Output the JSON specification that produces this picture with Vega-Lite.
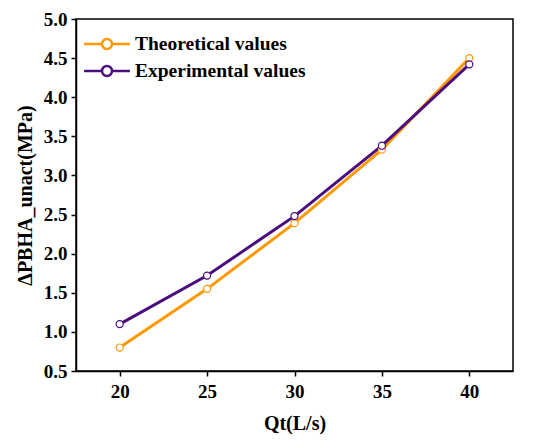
{
  "$schema": "https://vega.github.io/schema/vega-lite/v6.json",
  "description": "Pressure drop of unactuated BHA versus flow rate, theoretical and experimental.",
  "width": 437,
  "height": 352,
  "autosize": {"type": "none"},
  "padding": {"left": 76, "top": 19, "right": 37, "bottom": 77},
  "background": "white",
  "config": {
    "font": "Liberation Serif",
    "view": {"stroke": "#000000", "strokeWidth": 1.5},
    "axis": {
      "grid": false,
      "domainColor": "#000000",
      "domainWidth": 1.5,
      "tickColor": "#000000",
      "tickWidth": 1.5,
      "tickSize": 5,
      "labelFont": "Liberation Serif",
      "labelFontSize": 19,
      "labelFontWeight": "bold",
      "labelColor": "#000000",
      "titleFont": "Liberation Serif",
      "titleFontSize": 20,
      "titleFontWeight": "bold",
      "titleColor": "#000000"
    },
    "legend": {
      "labelFont": "Liberation Serif",
      "labelFontSize": 19.5,
      "labelFontWeight": "bold",
      "labelColor": "#000000",
      "labelLimit": 400
    }
  },
  "data": {
    "values": [
      {"Q": 20, "dP": 0.8, "Series": "Theoretical values"},
      {"Q": 25, "dP": 1.55, "Series": "Theoretical values"},
      {"Q": 30, "dP": 2.39, "Series": "Theoretical values"},
      {"Q": 35, "dP": 3.33, "Series": "Theoretical values"},
      {"Q": 40, "dP": 4.5, "Series": "Theoretical values"},
      {"Q": 20, "dP": 1.1, "Series": "Experimental values"},
      {"Q": 25, "dP": 1.72, "Series": "Experimental values"},
      {"Q": 30, "dP": 2.48, "Series": "Experimental values"},
      {"Q": 35, "dP": 3.38, "Series": "Experimental values"},
      {"Q": 40, "dP": 4.42, "Series": "Experimental values"}
    ]
  },
  "encoding": {
    "x": {
      "field": "Q",
      "type": "quantitative",
      "scale": {"domain": [17.5, 42.5], "nice": false},
      "axis": {"values": [20, 25, 30, 35, 40], "title": "Qt(L/s)", "titlePadding": 12, "labelPadding": 6}
    },
    "y": {
      "field": "dP",
      "type": "quantitative",
      "scale": {"domain": [0.5, 5], "nice": false, "zero": false},
      "axis": {"values": [0.5, 1, 1.5, 2, 2.5, 3, 3.5, 4, 4.5, 5], "format": ".1f", "title": "ΔPBHA_unact(MPa)", "titlePadding": 8, "labelPadding": 4}
    },
    "stroke": {
      "field": "Series",
      "type": "nominal",
      "scale": {"domain": ["Theoretical values", "Experimental values"], "range": ["#FF9900", "#4B0C7E"]},
      "legend": {
        "title": null,
        "orient": "none",
        "legendX": 15,
        "legendY": 9,
        "symbolType": "M-1.6,0H-0.35M0.35,0H1.6M0.35,0A0.35,0.35 0 1 1 -0.35,0A0.35,0.35 0 1 1 0.35,0",
        "symbolSize": 820,
        "symbolStrokeWidth": 2.5,
        "symbolFillColor": "white",
        "rowPadding": 0,
        "labelOffset": 12
      }
    }
  },
  "layer": [
    {"mark": {"type": "line", "strokeWidth": 3}},
    {"mark": {"type": "point", "shape": "circle", "size": 50, "fill": "white", "filled": true, "strokeWidth": 1.2, "opacity": 1}}
  ]
}
